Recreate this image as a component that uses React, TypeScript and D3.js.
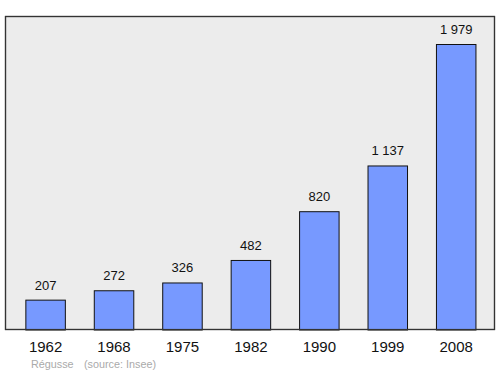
import React from "react";
import * as d3 from "d3";

const years = ["1962", "1968", "1975", "1982", "1990", "1999", "2008"];
const population = [207, 272, 326, 482, 820, 1137, 1979];
const valueLabels = ["207", "272", "326", "482", "820", "1 137", "1 979"];
const townName = "Régusse";
const sourceText = "(source: Insee)";

export default function App() {
  const W = 500, H = 374;
  const frame = { x0: 5.5, y0: 16.5, x1: 494.5, y1: 329.5 };
  const x = d3.scalePoint<string>().domain(years).range([45.6, 456.2]);
  const y = d3.scaleLinear().domain([0, 1979]).range([330, 44.5]);
  const bw = 39.5;
  const font = "'Liberation Sans', Arial, sans-serif";
  return (
    <svg width={W} height={H} style={{ position: "absolute", left: 0, top: 0 }} fontFamily={font}>
      <rect x={frame.x0} y={frame.y0} width={frame.x1 - frame.x0} height={frame.y1 - frame.y0} fill="#ececec" stroke="#333" strokeWidth={1.2} />
      {years.map((yr, i) => (
        <g key={yr}>
          <rect x={x(yr)! - bw / 2} y={y(population[i])} width={bw} height={y(0) - y(population[i])} fill="#7799ff" stroke="#111" strokeWidth={1} />
          <text x={x(yr)} y={y(population[i]) - 10.5} textAnchor="middle" fontSize={13} fill="#111">{valueLabels[i]}</text>
          <text x={x(yr)} y={352} textAnchor="middle" fontSize={15} fill="#111">{yr}</text>
        </g>
      ))}
      <rect x={frame.x0} y={frame.y0} width={frame.x1 - frame.x0} height={frame.y1 - frame.y0} fill="none" stroke="#333" strokeWidth={1.2} />
      <text x={31} y={368} fontSize={10.8} fill="#aaa">{townName}</text>
      <text x={84} y={368} fontSize={10.8} fill="#aaa">{sourceText}</text>
    </svg>
  );
}
